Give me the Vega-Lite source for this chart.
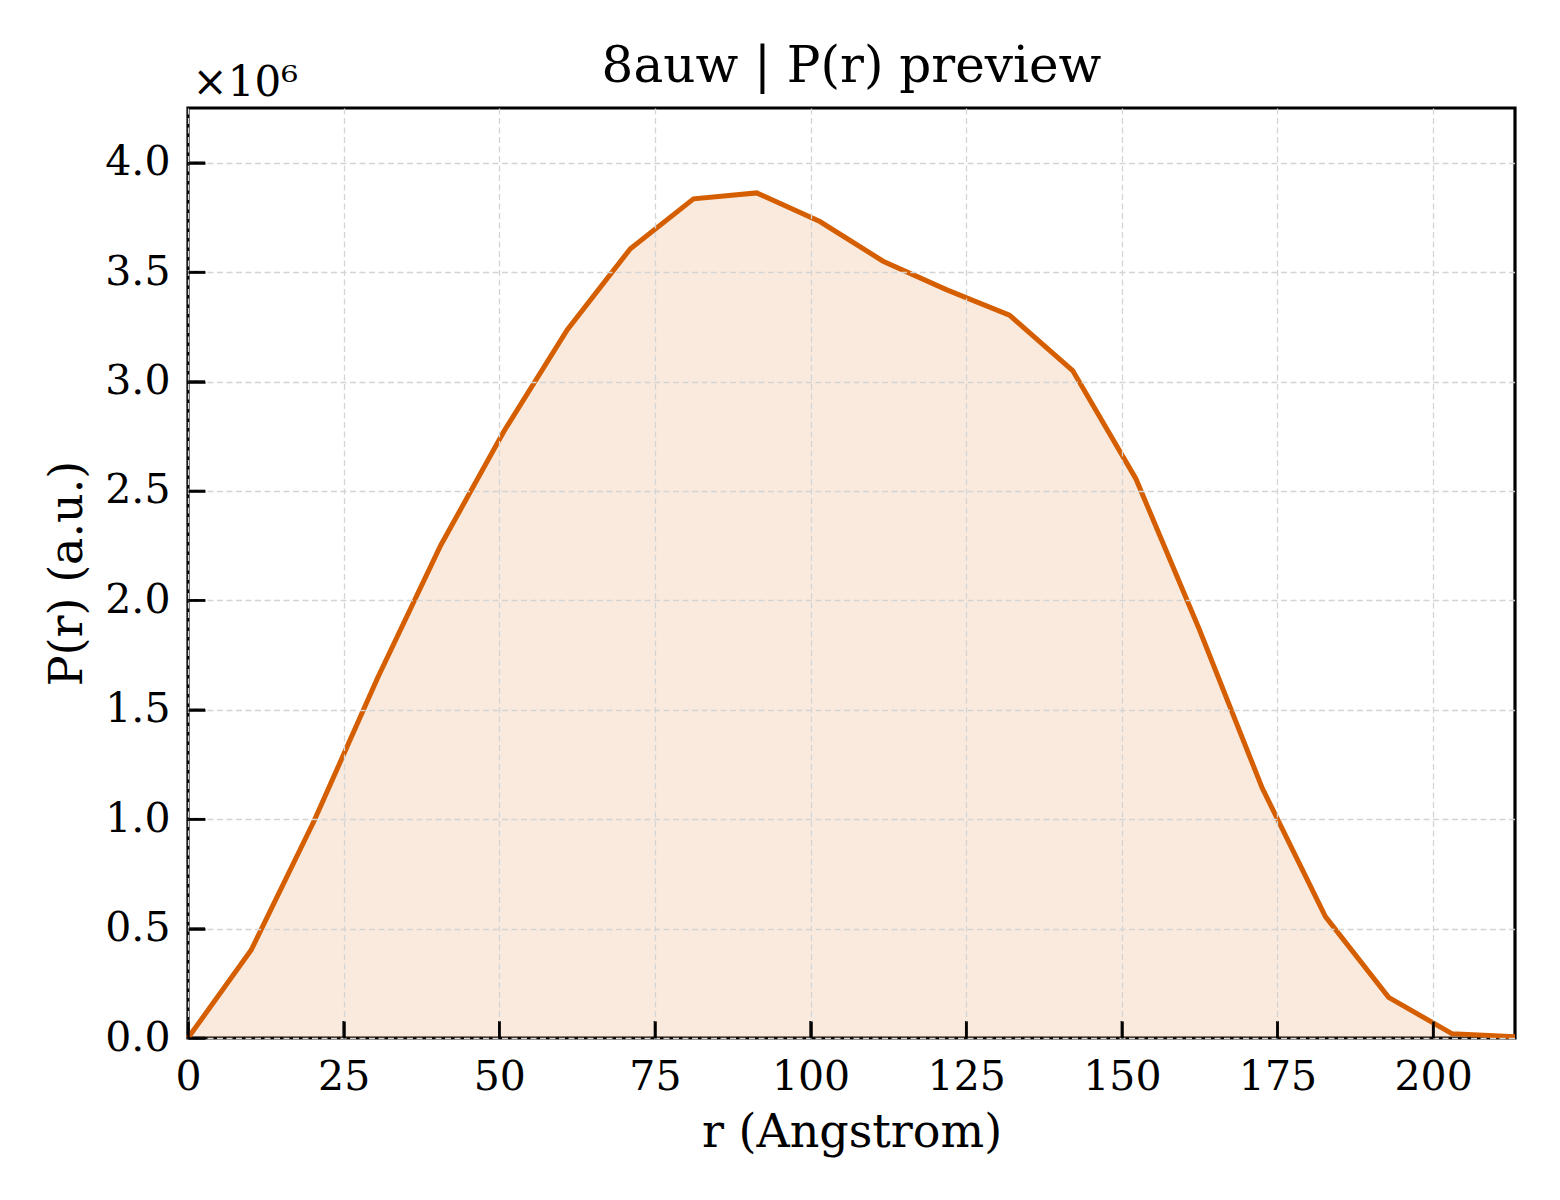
{
  "$schema": "https://vega.github.io/schema/vega-lite/v6.json",
  "width": 1327,
  "height": 930,
  "autosize": {"type": "none"},
  "padding": {"left": 188, "top": 108, "right": 45, "bottom": 162},
  "background": "white",
  "title": {
    "text": "8auw | P(r) preview",
    "font": "DejaVu Serif",
    "fontSize": 50,
    "fontWeight": "normal",
    "color": "black",
    "anchor": "middle",
    "frame": "group",
    "baseline": "alphabetic",
    "offset": 23,
    "dy": 94
  },
  "config": {
    "view": {"stroke": "black", "strokeWidth": 3.2},
    "axis": {
      "labelFont": "DejaVu Serif",
      "titleFont": "DejaVu Serif",
      "labelFontSize": 41,
      "titleFontSize": 46,
      "titleFontWeight": "normal",
      "labelColor": "black",
      "titleColor": "black",
      "domain": false,
      "tickColor": "black",
      "tickWidth": 2.5,
      "tickSize": 17,
      "gridColor": "#d4d4d4",
      "gridWidth": 1.3,
      "gridDash": [6, 3.5]
    }
  },
  "data": {
    "values": [
      {"r": 0.0, "P": 0},
      {"r": 10.15, "P": 402000},
      {"r": 20.3, "P": 995000},
      {"r": 30.45, "P": 1645000},
      {"r": 40.6, "P": 2252000},
      {"r": 50.75, "P": 2773000},
      {"r": 60.9, "P": 3236000},
      {"r": 71.05, "P": 3607000},
      {"r": 81.2, "P": 3835000},
      {"r": 91.35, "P": 3862000},
      {"r": 101.5, "P": 3731000},
      {"r": 111.65, "P": 3550000},
      {"r": 121.8, "P": 3420000},
      {"r": 131.95, "P": 3303000},
      {"r": 142.1, "P": 3050000},
      {"r": 152.25, "P": 2556000},
      {"r": 162.4, "P": 1870000},
      {"r": 172.55, "P": 1142000},
      {"r": 182.7, "P": 555000},
      {"r": 192.85, "P": 186000},
      {"r": 203.0, "P": 20000},
      {"r": 213.15, "P": 6000}
    ]
  },
  "resolve": {"axis": {"x": "independent"}},
  "layer": [
    {
      "mark": {"type": "area", "color": "#D55E00", "opacity": 0.13},
      "encoding": {
        "x": {
          "field": "r",
          "type": "quantitative",
          "scale": {"domain": [0, 213.15], "nice": false, "zero": false},
          "axis": {
            "values": [0, 25, 50, 75, 100, 125, 150, 175, 200],
            "offset": -17,
            "zindex": 1,
            "labelBaseline": "alphabetic",
            "labelPadding": 51,
            "labelFlush": false,
            "title": "r (Angstrom)",
            "titleBaseline": "alphabetic",
            "titleX": 663.5,
            "titleY": 125
          }
        },
        "y": {
          "field": "P",
          "type": "quantitative",
          "scale": {"domain": [0, 4250000], "nice": false},
          "axis": {
            "values": [0, 500000, 1000000, 1500000, 2000000, 2500000, 3000000, 3500000, 4000000],
            "labelExpr": "format(datum.value / 1000000, '.1f')",
            "offset": -17,
            "zindex": 1,
            "labelPadding": 18,
            "labelBaseline": "middle",
            "labelFlush": false,
            "title": "P(r) (a.u.)",
            "titleAngle": -90,
            "titleAlign": "center",
            "titleBaseline": "middle",
            "titleX": -138,
            "titleY": 465
          }
        }
      }
    },
    {
      "data": {"values": [{"r": 0}, {"r": 25}, {"r": 50}, {"r": 75}, {"r": 100}, {"r": 125}, {"r": 150}, {"r": 175}, {"r": 200}]},
      "mark": {"type": "rule", "color": "black", "strokeWidth": 2.5, "y2Offset": -17},
      "encoding": {
        "x": {"field": "r", "type": "quantitative", "axis": null},
        "y": {"datum": 0},
        "y2": {"datum": 0}
      }
    },
    {
      "data": {"values": [{"P": 0}, {"P": 500000}, {"P": 1000000}, {"P": 1500000}, {"P": 2000000}, {"P": 2500000}, {"P": 3000000}, {"P": 3500000}, {"P": 4000000}]},
      "mark": {"type": "rule", "color": "black", "strokeWidth": 2.5, "x2Offset": 17},
      "encoding": {
        "y": {"field": "P", "type": "quantitative"},
        "x": {"datum": 0, "axis": null},
        "x2": {"datum": 0}
      }
    },
    {
      "mark": {"type": "line", "color": "#D55E00", "strokeWidth": 5},
      "encoding": {
        "x": {
          "field": "r",
          "type": "quantitative",
          "axis": {
            "orient": "top",
            "labels": false,
            "ticks": false,
            "grid": false,
            "title": "×10⁶",
            "titleFontSize": 42,
            "titleAnchor": "start",
            "titleAlign": "left",
            "titleBaseline": "alphabetic",
            "titleX": 4,
            "titleY": -13
          }
        },
        "y": {"field": "P", "type": "quantitative"}
      }
    }
  ]
}
